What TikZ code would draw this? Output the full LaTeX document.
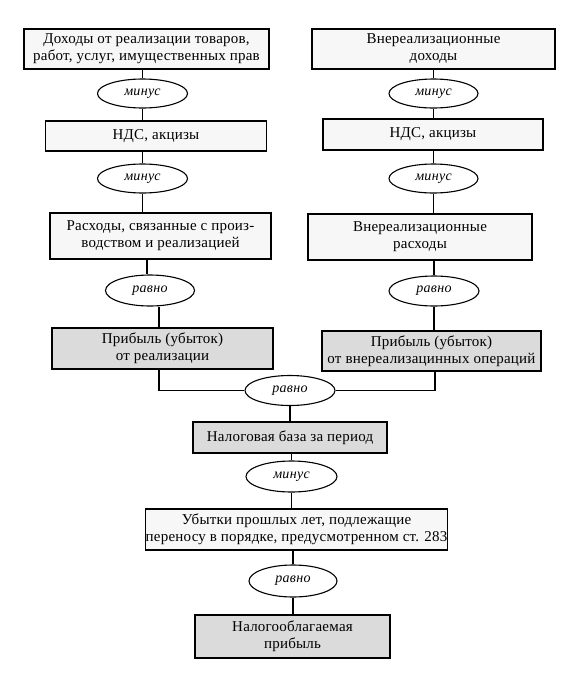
\documentclass[tikz,border=0pt]{standalone}
\usepackage{fontspec}
\setmainfont{Liberation Serif}
\usetikzlibrary{shapes.geometric}
\begin{document}
\begin{tikzpicture}[x=1pt,y=-1pt,
  box/.style={draw, line width=1.5pt, fill=black!3, align=center, inner sep=0pt, font=\fontsize{15}{17}\selectfont\addfontfeature{LetterSpace=1.5}},
  gbox/.style={box, fill=black!14},
  ell/.style={draw, ellipse, line width=1.1pt, fill=white, inner sep=0pt, font=\fontsize{14}{16}\selectfont\itshape\addfontfeature{LetterSpace=2}},
  con/.style={line width=1.2pt}]
\useasboundingbox (0,0) rectangle (579,673);
% left column
\node[box, minimum width=245pt, minimum height=40pt] (b1) at (146.5,49) {Доходы от реализации товаров,\\работ, услуг, имущественных прав};
\node[ell, minimum width=90pt, minimum height=29pt] (e1) at (142.5,93.5) {минус};
\node[box, minimum width=221pt, minimum height=30pt] (b2) at (156,136) {НДС, акцизы};
\node[ell, minimum width=90pt, minimum height=29pt] (e2) at (142.5,178.5) {минус};
\node[box, minimum width=221pt, minimum height=46pt] (b3) at (160.5,236) {Расходы, связанные с произ-\\водством и реализацией};
\node[ell, minimum width=89pt, minimum height=31pt] (e3) at (150,290.5) {равно};
\node[gbox, minimum width=221pt, minimum height=41pt] (b4) at (162.5,348.5) {Прибыль (убыток)\\от реализации};
% right column
\node[box, minimum width=243pt, minimum height=40pt] (r1) at (433.5,49) {Внереализационные\\доходы};
\node[ell, minimum width=89pt, minimum height=29pt] (re1) at (433.5,93.5) {минус};
\node[box, minimum width=220pt, minimum height=31pt] (r2) at (433,134.5) {НДС, акцизы};
\node[ell, minimum width=89pt, minimum height=29pt] (re2) at (433.5,178.5) {минус};
\node[box, minimum width=224pt, minimum height=46pt] (r3) at (420,237) {Внереализационные\\расходы};
\node[ell, minimum width=90pt, minimum height=30pt] (re3) at (434,291) {равно};
\node[gbox, minimum width=219pt, minimum height=40pt] (r4) at (431.5,351) {Прибыль (убыток)\\от внереализацинных операций};
% center
\node[ell, minimum width=90pt, minimum height=30pt] (c) at (290,390.5) {равно};
\node[gbox, minimum width=194pt, minimum height=31pt] (n) at (290,437.5) {Налоговая база за период};
\node[ell, minimum width=91pt, minimum height=31pt] (ce1) at (291.5,476.5) {минус};
\node[box, minimum width=300pt, minimum height=41pt] (u) at (296.5,529.5) {Убытки прошлых лет, подлежащие\\переносу в порядке, предусмотренном ст. 283};
\node[ell, minimum width=88pt, minimum height=32pt] (ce2) at (293,581) {равно};
\node[gbox, minimum width=195pt, minimum height=43pt] (f) at (292.5,636.5) {Налогооблагаемая\\прибыль};
% connectors
\draw[con] (b1.south -| e1) -- (e1.north);
\draw[con] (e1.south) -- (e1.south |- b2.north);
\draw[con] (b2.south -| e2) -- (e2.north);
\draw[con] (e2.south) -- (e2.south |- b3.north);
\draw[con] ([xshift=-3pt]b3.south -| e3) -- ([xshift=-3pt]e3.north);
\draw[con] ([xshift=9pt]e3.south) -- ([xshift=9pt]e3.south |- b4.north);
\draw[con] (r1.south -| re1) -- (re1.north);
\draw[con] (re1.south) -- (re1.south |- r2.north);
\draw[con] (r2.south -| re2) -- (re2.north);
\draw[con] (re2.south) -- (re2.south |- r3.north);
\draw[con] (r3.south -| re3) -- (re3.north);
\draw[con] (re3.south) -- (re3.south |- r4.north);
\draw[con] ([xshift=-3.5pt]b4.south) |- (c.west);
\draw[con] ([xshift=1pt]r4.south -| re3) |- (c.east);
\draw[con] (c.south) -- (c.south |- n.north);
\draw[con] (n.south -| ce1) -- (ce1.north);
\draw[con] (ce1.south) -- (ce1.south |- u.north);
\draw[con] (u.south -| ce2) -- (ce2.north);
\draw[con] (ce2.south) -- (ce2.south |- f.north);
\end{tikzpicture}
\end{document}
